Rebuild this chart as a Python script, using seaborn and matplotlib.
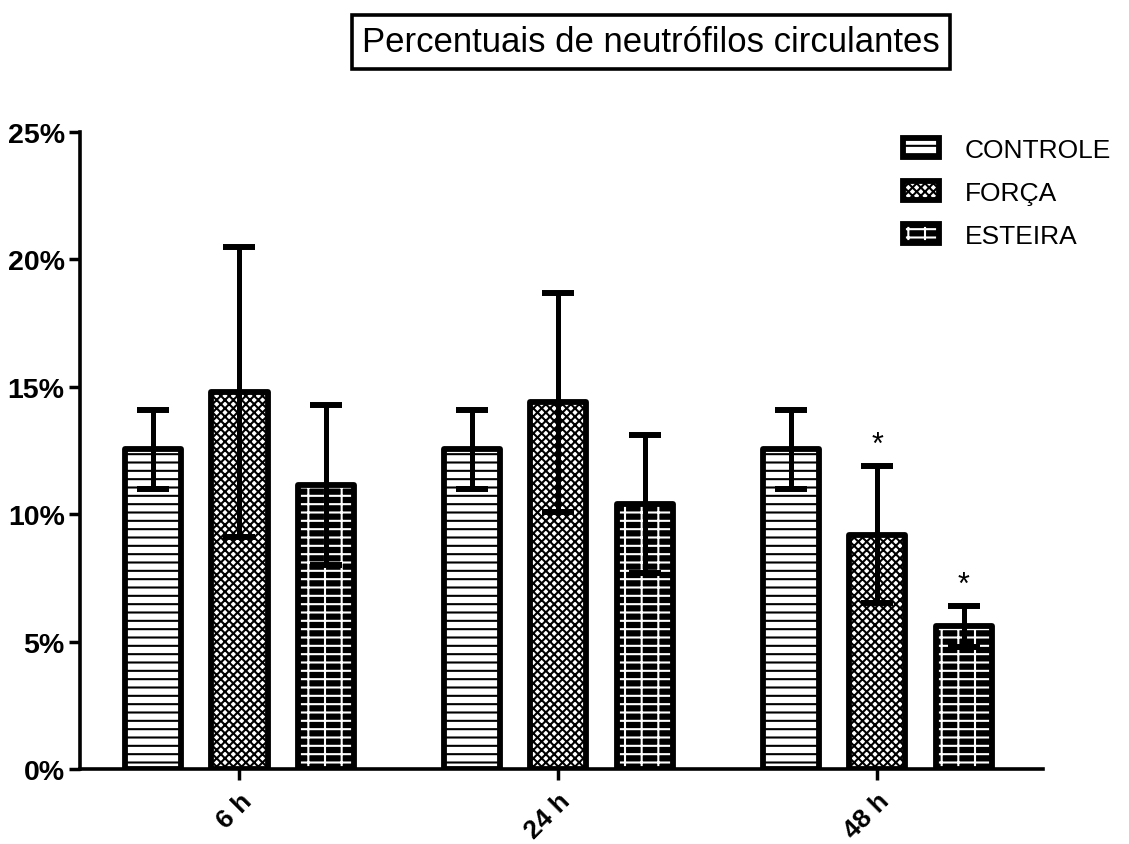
import matplotlib
matplotlib.use("Agg")
import matplotlib.pyplot as plt
from matplotlib.patches import Patch, Rectangle
from matplotlib.legend_handler import HandlerTuple
import seaborn as sns
import pandas as pd
import numpy as np

groups = ["6 h", "24 h", "48 h"]
series = ["CONTROLE", "FORÇA", "ESTEIRA"]
controle = [12.55, 12.55, 12.55]
controle_err = [1.55, 1.55, 1.55]
forca = [14.8, 14.4, 9.2]
forca_err = [5.7, 4.3, 2.7]
esteira = [11.15, 10.4, 5.6]
esteira_err = [3.15, 2.7, 0.8]
stars = [["", "", ""], ["", "", "*"], ["", "", "*"]]
yticks = [0, 5, 10, 15, 20, 25]
ytick_labels = ["0%", "5%", "10%", "15%", "20%", "25%"]
title = "Percentuais de neutrófilos circulantes"

sns.set_style("white")
plt.rcParams["font.family"] = ["Liberation Sans", "DejaVu Sans"]
plt.rcParams["hatch.linewidth"] = 1.5
for k in ["text.color", "axes.labelcolor", "xtick.color", "ytick.color", "axes.edgecolor"]:
    plt.rcParams[k] = "black"

rows = []
for s, vals in zip(series, [controle, forca, esteira]):
    for g, v in zip(groups, vals):
        rows.append({"group": g, "series": s, "value": v})
df = pd.DataFrame(rows)
errs = [controle_err, forca_err, esteira_err]

fig = plt.figure(figsize=(11.29, 8.45), dpi=100)
ax = fig.add_axes([80 / 1129, 1 - 770 / 845, (1043 - 80) / 1129, (770 - 133) / 845])

sns.barplot(data=df, x="group", y="value", hue="series", order=groups,
            hue_order=series, errorbar=None, width=0.813, gap=0.35,
            palette=["white", "white", "black"], ax=ax, legend=False)

bar_conts = list(ax.containers)

EDGE_LW = 4.2
hatches = ["--", "xxxx", "--|"]
for i, cont in enumerate(bar_conts):
    for p in cont:
        p.set_hatch(hatches[i])
        if i < 2:
            p.set_facecolor("white")
            p.set_edgecolor("black")
            p.set_linewidth(EDGE_LW)
            p.set_joinstyle("round")
        else:
            p.set_facecolor("black")
            p.set_edgecolor("white")
            p.set_linewidth(0)
            ax.add_patch(Rectangle(p.get_xy(), p.get_width(), p.get_height(),
                                   fill=False, ec="black", lw=EDGE_LW,
                                   joinstyle="round", zorder=p.get_zorder() + 0.1))

for i, cont in enumerate(bar_conts):
    xs = [p.get_x() + p.get_width() / 2 for p in cont]
    hs = [p.get_height() for p in cont]
    ax.errorbar(xs, hs, yerr=errs[i], fmt="none", ecolor="black",
                elinewidth=3.6, capsize=11.5, capthick=4.3, zorder=5)
    for x, h, e, st in zip(xs, hs, errs[i], stars[i]):
        if st:
            ax.text(x, h + e + 0.25, st, ha="center", va="bottom",
                    fontsize=22, color="black")

ax.set_xlim(-0.5, 2.52)
ax.set_ylim(0, 25)
ax.set_yticks(yticks)
ax.set_yticklabels(ytick_labels, fontsize=20.5, fontweight="bold")
ax.set_xticks(range(len(groups)))
ax.set_xticklabels(groups, fontsize=19, fontweight="bold", rotation=45,
                   ha="right", rotation_mode="anchor")
ax.set_xlabel("")
ax.set_ylabel("")
for side in ["top", "right"]:
    ax.spines[side].set_visible(False)
for side in ["left", "bottom"]:
    ax.spines[side].set_linewidth(2.6)
    ax.spines[side].set_color("black")
ax.tick_params(axis="both", direction="out", length=8, width=2.5, color="black",
               left=True, bottom=True, pad=3)
ax.tick_params(axis="x", pad=6)

handles = [
    Patch(facecolor="white", edgecolor="black", hatch="--", linewidth=EDGE_LW),
    Patch(facecolor="white", edgecolor="black", hatch="xxxx", linewidth=EDGE_LW),
    (Patch(facecolor="black", edgecolor="white", hatch="--|", linewidth=0),
     Patch(facecolor="none", edgecolor="black", linewidth=EDGE_LW)),
]
fig.legend(handles, series, loc="upper left",
           bbox_to_anchor=(903 / 1129, 1 - 139 / 845), frameon=False,
           fontsize=19, handlelength=1.35, handleheight=0.75, handletextpad=1.0,
           labelspacing=0.72, borderaxespad=0, borderpad=0,
           handler_map={tuple: HandlerTuple(ndivide=1, pad=0)})

fig.text(651 / 1129, 1 - 43 / 845, title, ha="center", va="center", fontsize=25,
         bbox=dict(boxstyle="square,pad=0.3", fc="white", ec="black", lw=2.6))

fig.savefig("out.png", dpi=100)
